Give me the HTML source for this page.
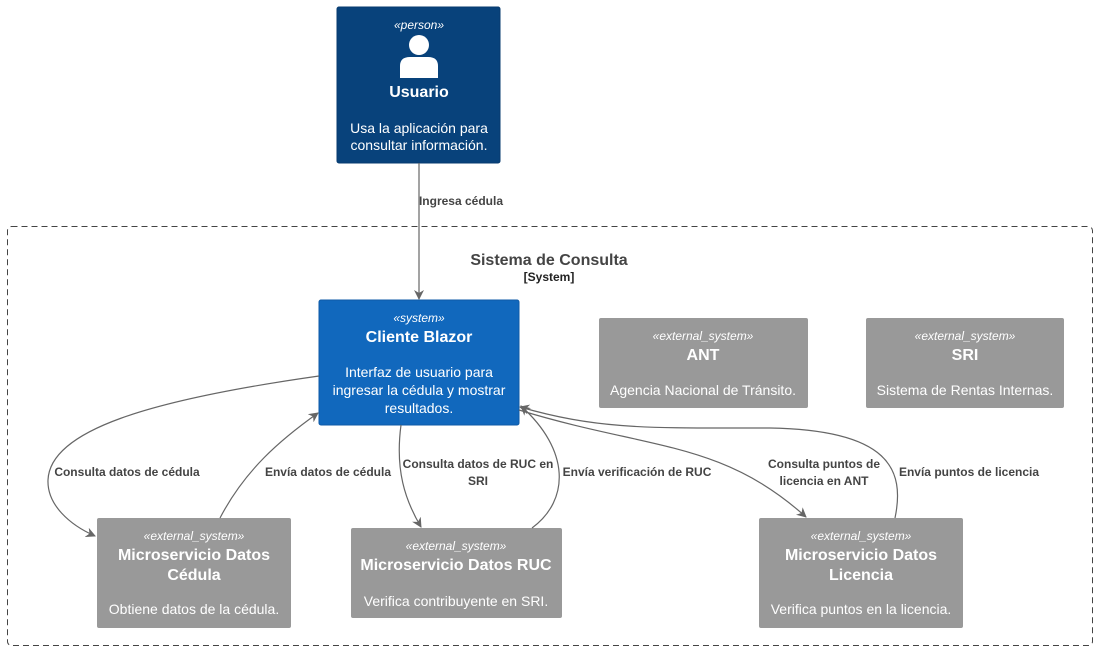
<!DOCTYPE html>
<html><head><meta charset="utf-8"><style>
body{margin:0;background:#fff}
svg{display:block;font-family:"Liberation Sans",sans-serif}
.w{fill:#fff;text-anchor:middle}
.l{fill:#444;font-size:12px;font-weight:bold;text-anchor:middle}
.e{fill:none;stroke:#666;stroke-width:1.2}
</style></head><body>
<svg width="1097" height="650" viewBox="0 0 1097 650">
<defs><marker id="a" markerWidth="10" markerHeight="10" refX="9" refY="5" orient="auto" markerUnits="userSpaceOnUse"><path d="M0,0 L10,5 L0,10 L3,5 z" fill="#666"/></marker></defs>
<rect x="7.5" y="226.5" width="1085" height="419" rx="4" fill="none" stroke="#444" stroke-dasharray="6,4"/>
<text x="549" y="265" style="font-size:16px;font-weight:bold;fill:#444;text-anchor:middle">Sistema de Consulta</text>
<text x="549" y="281" class="l" style="fill:#222;font-size:12px">[System]</text>

<rect x="337" y="7" width="163" height="156" rx="2" fill="#08427b" stroke="#073b6f"/>
<text x="419" y="29" class="w" style="font-size:12px;font-style:italic">«person»</text>
<circle cx="419" cy="45" r="10" fill="#fff"/>
<path d="M400,78 L400,66 Q400,57 410,57 L428,57 Q438,57 438,66 L438,78 z" fill="#fff"/>
<text x="419" y="97" class="w" style="font-size:16px;font-weight:bold">Usuario</text>
<text x="419" y="133" class="w" style="font-size:14px">Usa la aplicación para</text>
<text x="419" y="150" class="w" style="font-size:14px">consultar información.</text>

<rect x="319" y="300" width="200" height="125" rx="2" fill="#1168bd" stroke="#0e5aa7"/>
<text x="419" y="322" class="w" style="font-size:12px;font-style:italic">«system»</text>
<text x="419" y="342" class="w" style="font-size:16px;font-weight:bold">Cliente Blazor</text>
<text x="419" y="377" class="w" style="font-size:14px">Interfaz de usuario para</text>
<text x="419" y="395" class="w" style="font-size:14px">ingresar la cédula y mostrar</text>
<text x="419" y="413" class="w" style="font-size:14px">resultados.</text>

<g style="font-size:14px">
<rect x="599" y="318" width="209" height="90" rx="2" fill="#999"/>
<text x="703" y="340" class="w" style="font-size:12px;font-style:italic">«external_system»</text>
<text x="703" y="360" class="w" style="font-size:16px;font-weight:bold">ANT</text>
<text x="703" y="395" class="w">Agencia Nacional de Tránsito.</text>

<rect x="866" y="318" width="198" height="90" rx="2" fill="#999"/>
<text x="965" y="340" class="w" style="font-size:12px;font-style:italic">«external_system»</text>
<text x="965" y="360" class="w" style="font-size:16px;font-weight:bold">SRI</text>
<text x="965" y="395" class="w">Sistema de Rentas Internas.</text>

<rect x="97" y="518" width="194" height="110" rx="2" fill="#999"/>
<text x="194" y="540" class="w" style="font-size:12px;font-style:italic">«external_system»</text>
<text x="194" y="560" class="w" style="font-size:16px;font-weight:bold">Microservicio Datos</text>
<text x="194" y="580" class="w" style="font-size:16px;font-weight:bold">Cédula</text>
<text x="194" y="614" class="w">Obtiene datos de la cédula.</text>

<rect x="351" y="528" width="211" height="90" rx="2" fill="#999"/>
<text x="456" y="550" class="w" style="font-size:12px;font-style:italic">«external_system»</text>
<text x="456" y="570" class="w" style="font-size:16px;font-weight:bold">Microservicio Datos RUC</text>
<text x="456" y="606" class="w">Verifica contribuyente en SRI.</text>

<rect x="759" y="518" width="204" height="110" rx="2" fill="#999"/>
<text x="861" y="540" class="w" style="font-size:12px;font-style:italic">«external_system»</text>
<text x="861" y="560" class="w" style="font-size:16px;font-weight:bold">Microservicio Datos</text>
<text x="861" y="580" class="w" style="font-size:16px;font-weight:bold">Licencia</text>
<text x="861" y="614" class="w">Verifica puntos en la licencia.</text>
</g>

<path class="e" d="M419,163 L419,299" marker-end="url(#a)"/>
<text x="461" y="205" class="l">Ingresa cédula</text>

<path class="e" d="M319,376 C150,400 50,430 48,480 C47,505 70,525 95,536" marker-end="url(#a)"/>
<text x="127" y="476" class="l">Consulta datos de cédula</text>
<path class="e" d="M220,518 C245,470 280,440 318,413" marker-end="url(#a)"/>
<text x="328" y="476" class="l">Envía datos de cédula</text>
<path class="e" d="M401,425 C395,470 405,500 421,527" marker-end="url(#a)"/>
<text x="478" y="468" class="l">Consulta datos de RUC en</text>
<text x="478" y="485" class="l">SRI</text>
<path class="e" d="M532,528 C570,500 570,450 521,406" marker-end="url(#a)"/>
<text x="637" y="476" class="l">Envía verificación de RUC</text>
<path class="e" d="M519,410 C650,450 720,440 806,517" marker-end="url(#a)"/>
<text x="824" y="468" class="l">Consulta puntos de</text>
<text x="824" y="485" class="l">licencia en ANT</text>
<path class="e" d="M895,518 C905,470 890,430 770,428 C650,428 600,430 520,407" marker-end="url(#a)"/>
<text x="969" y="476" class="l">Envía puntos de licencia</text>
</svg>
</body></html>
